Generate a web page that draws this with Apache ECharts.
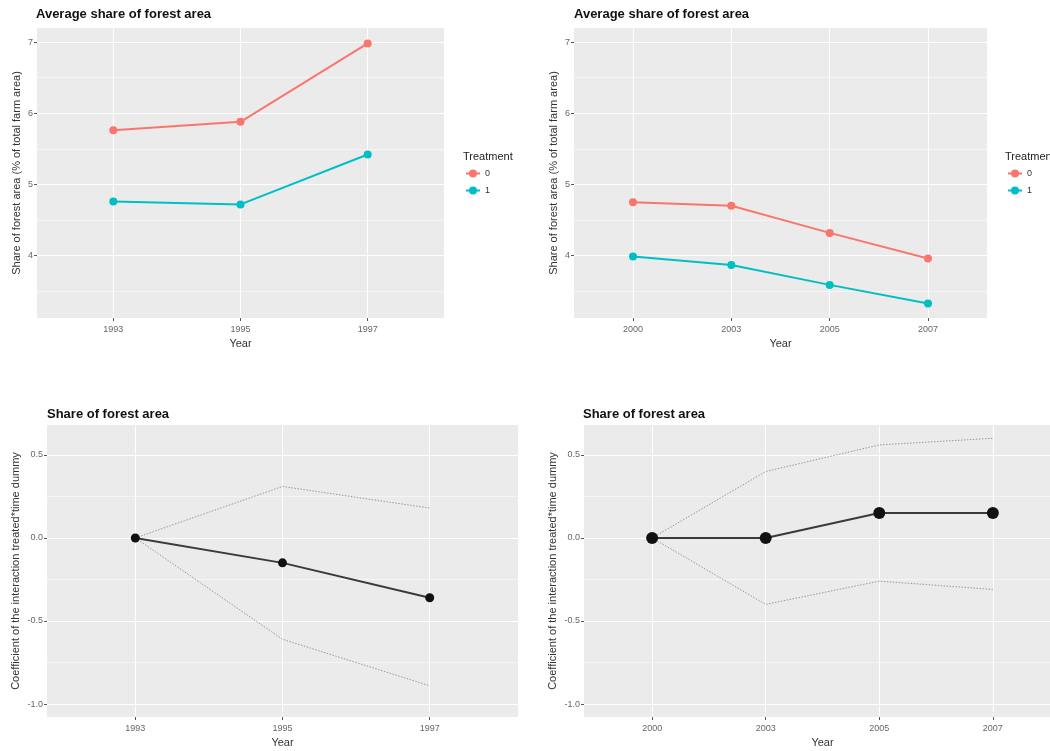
<!DOCTYPE html>
<html>
<head>
<meta charset="utf-8">
<script src="https://cdn.jsdelivr.net/npm/echarts@6/dist/echarts.min.js"></script>
<style>html,body{margin:0;padding:0;background:#fff}#c{width:1050px;height:751px}</style>
</head>
<body>
<div id="c"></div>
<script>
// ---- data ----
var yearsA = ['1993', '1995', '1997'];
var yearsB = ['2000', '2003', '2005', '2007'];
var shareA_t0 = [5.76, 5.88, 6.98];
var shareA_t1 = [4.76, 4.72, 5.42];
var shareB_t0 = [4.75, 4.70, 4.32, 3.96];
var shareB_t1 = [3.99, 3.87, 3.59, 3.33];
var coefA = [0, -0.15, -0.36];
var coefA_hi = [0, 0.31, 0.18];
var coefA_lo = [0, -0.61, -0.89];
var coefB = [0, 0, 0.15, 0.15];
var coefB_hi = [0, 0.40, 0.56, 0.60];
var coefB_lo = [0, -0.40, -0.26, -0.31];
var shareTicks = [4, 5, 6, 7];
var shareMinor = [3.5, 4.5, 5.5, 6.5];
var coefTicks = [-1.0, -0.5, 0.0, 0.5];
var coefMinor = [-0.75, -0.25, 0.25];
var treatments = ['0', '1'];

var FONT = '"Liberation Sans", Arial, sans-serif';
var RED = '#F8766D', TEAL = '#00BFC4';

function pts(arr) { return arr.map(function (v, i) { return [i, v]; }); }
function idx(n) { var a = []; for (var i = 0; i < n; i++) a.push(i); return a; }

function xAxis(gi, years) {
  var n = years.length;
  return {
    type: 'value', gridIndex: gi, min: -0.6, max: n - 1 + 0.6, position: 'bottom',
    axisLine: { show: false, onZero: false },
    axisTick: { show: true, length: 3, customValues: idx(n), lineStyle: { color: '#555', width: 1 } },
    axisLabel: { customValues: idx(n), formatter: function (v) { return years[Math.round(v)]; },
      fontSize: 9, color: '#666', margin: 7, fontFamily: FONT },
    splitLine: { show: true, lineStyle: { color: '#fff', width: 1.1 } },
    name: 'Year', nameLocation: 'middle', nameGap: 20,
    nameTextStyle: { fontSize: 11, color: '#333', fontFamily: FONT }
  };
}
function yMajor(gi, min, max, ticks, name, gap, fmt) {
  return {
    type: 'value', gridIndex: gi, min: min, max: max, position: 'left',
    axisLine: { show: false, onZero: false },
    axisTick: { show: true, length: 3, customValues: ticks, lineStyle: { color: '#555', width: 1 } },
    axisLabel: { customValues: ticks, formatter: fmt, fontSize: 9, color: '#666', margin: 4, fontFamily: FONT },
    splitLine: { show: true, lineStyle: { color: '#fff', width: 1.1 } },
    name: name, nameLocation: 'middle', nameGap: gap,
    nameTextStyle: { fontSize: 11, color: '#333', fontFamily: FONT }
  };
}
function yMinor(gi, min, max, ticks) {
  return {
    type: 'value', gridIndex: gi, min: min, max: max, position: 'left',
    axisLine: { show: false, onZero: false },
    axisTick: { show: false, customValues: ticks },
    axisLabel: { show: false, customValues: ticks },
    splitLine: { show: true, lineStyle: { color: '#fff', width: 0.5 } }
  };
}
function gridAt(l, t, w, h) {
  return { left: l, top: t, width: w, height: h, show: true, backgroundColor: '#EBEBEB',
    borderWidth: 0, containLabel: false, outerBoundsMode: 'none' };
}
function shareSeries(name, data, color, xi, yi) {
  return { type: 'line', name: name, xAxisIndex: xi, yAxisIndex: yi, data: pts(data),
    symbol: 'circle', symbolSize: 8, color: color,
    lineStyle: { color: color, width: 2 }, itemStyle: { color: color }, z: 3, animation: false };
}
function ciSeries(data, xi, yi) {
  return { type: 'line', xAxisIndex: xi, yAxisIndex: yi, data: pts(data), symbol: 'none',
    lineStyle: { color: '#999', width: 1, type: [1.5, 1.5] }, z: 2, animation: false, silent: true };
}
function coefSeries(data, xi, yi, size) {
  return { type: 'line', xAxisIndex: xi, yAxisIndex: yi, data: pts(data), symbol: 'circle',
    symbolSize: size, lineStyle: { color: '#3a3a3a', width: 2 }, itemStyle: { color: '#111' },
    z: 4, animation: false };
}
var fmtInt = function (v) { return String(Math.round(v)); };
var fmt1 = function (v) { return v.toFixed(1); };
var shareMin = 3.125, shareMax = 7.197, coefMin = -1.078, coefMax = 0.68;
var shareName = 'Share of forest area (% of total farm area)';
var coefName = 'Coefficient of the interaction treated*time dummy';

var titleStyle = { fontSize: 13, fontWeight: 'bold', color: '#111', fontFamily: FONT };
var legTitle = { fontSize: 11, fontWeight: 'normal', color: '#222', fontFamily: FONT };

var option = {
  backgroundColor: '#fff',
  animation: false,
  title: [
    { text: 'Average share of forest area', left: 36, top: 8, textStyle: titleStyle, padding: 0 },
    { text: 'Average share of forest area', left: 574, top: 8, textStyle: titleStyle, padding: 0 },
    { text: 'Share of forest area', left: 47, top: 408, textStyle: titleStyle, padding: 0 },
    { text: 'Share of forest area', left: 583, top: 408, textStyle: titleStyle, padding: 0 },
    { text: 'Treatment', left: 463, top: 151, textStyle: legTitle, padding: 0 },
    { text: 'Treatment', left: 1005, top: 151, textStyle: legTitle, padding: 0 }
  ],
  legend: [
    { data: treatments, orient: 'vertical', left: 465, top: 169, itemWidth: 14, itemHeight: 10,
      itemGap: 8, padding: 0, textStyle: { fontSize: 9, color: '#333', fontFamily: FONT }, selectedMode: false },
    { data: treatments, orient: 'vertical', left: 1007, top: 169, itemWidth: 14, itemHeight: 10,
      itemGap: 8, padding: 0, textStyle: { fontSize: 9, color: '#333', fontFamily: FONT }, selectedMode: false }
  ],
  grid: [
    gridAt(37, 28, 407, 290),
    gridAt(574, 28, 413, 290),
    gridAt(47, 425, 471, 292),
    gridAt(584, 425, 477, 292)
  ],
  xAxis: [xAxis(0, yearsA), xAxis(1, yearsB), xAxis(2, yearsA), xAxis(3, yearsB)],
  yAxis: [
    yMajor(0, shareMin, shareMax, shareTicks, shareName, 15, fmtInt),
    yMajor(1, shareMin, shareMax, shareTicks, shareName, 15, fmtInt),
    yMajor(2, coefMin, coefMax, coefTicks, coefName, 26, fmt1),
    yMajor(3, coefMin, coefMax, coefTicks, coefName, 26, fmt1),
    yMinor(0, shareMin, shareMax, shareMinor),
    yMinor(1, shareMin, shareMax, shareMinor),
    yMinor(2, coefMin, coefMax, coefMinor),
    yMinor(3, coefMin, coefMax, coefMinor)
  ],
  series: [
    shareSeries('0', shareA_t0, RED, 0, 0),
    shareSeries('1', shareA_t1, TEAL, 0, 0),
    shareSeries('0', shareB_t0, RED, 1, 1),
    shareSeries('1', shareB_t1, TEAL, 1, 1),
    ciSeries(coefA_hi, 2, 2),
    ciSeries(coefA_lo, 2, 2),
    coefSeries(coefA, 2, 2, 9),
    ciSeries(coefB_hi, 3, 3),
    ciSeries(coefB_lo, 3, 3),
    coefSeries(coefB, 3, 3, 12)
  ]
};
var chart = echarts.init(document.getElementById('c'), null, { renderer: 'canvas' });
chart.setOption(option);
</script>
</body>
</html>
